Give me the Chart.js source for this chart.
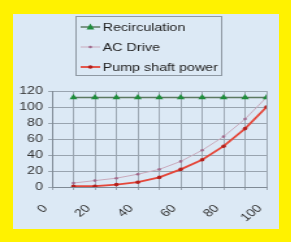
<!DOCTYPE html>
<html>
<head>
<meta charset="utf-8">
<script src="https://cdn.jsdelivr.net/npm/chart.js@4/dist/chart.umd.min.js"></script>
<style>
    html, body { margin: 0; padding: 0; background: #fff200; }
    body { width: 291px; height: 242px; position: relative; overflow: hidden; }
    #panel { position: absolute; left: 13px; top: 14px; width: 266px; height: 215px; background: #dce9f5; }
    /* the picture is stretched sideways, so the canvas is too */
    #c { position: absolute; left: 0; top: 0; transform: scaleX(1.3); transform-origin: 0 0; }
</style>
</head>
<body>
<div id="panel"><canvas id="c" width="205" height="215"></canvas></div>
<script>
    // speed (%) on the x axis
    const speeds = [10, 20, 30, 40, 50, 60, 70, 80, 90, 100];
    const recirculation = [112, 112, 112, 112, 112, 112, 112, 112, 112, 112];
    const acDrive = [5, 8, 11, 16, 22, 32, 46, 63, 85, 112];
    const pumpShaft = [1, 1, 3, 6, 12, 22, 34, 51, 73, 100];
    const seriesNames = ["Recirculation", "AC Drive", "Pump shaft power"];

    function toPoints(values) {
        return speeds.map((s, i) => ({ x: s, y: values[i] }));
    }

    // legend drawn in a box above the plot, one row per series
    const boxLegend = {
        id: "boxLegend",
        afterDraw(chart) {
            const ctx = chart.ctx;
            ctx.save();
            ctx.strokeStyle = "#8f99a3";
            ctx.lineWidth = 1;
            ctx.strokeRect(48.5, 2.5, 112, 59);
            ctx.font = '11px "Liberation Sans", Arial, sans-serif';
            ctx.textBaseline = "middle";
            chart.data.datasets.forEach((ds, i) => {
                const y = 13 + i * 20;
                ctx.strokeStyle = ds.borderColor;
                ctx.lineWidth = ds.borderWidth;
                ctx.beginPath();
                ctx.moveTo(52, y);
                ctx.lineTo(67, y);
                ctx.stroke();
                ctx.fillStyle = ds.pointBackgroundColor;
                ctx.beginPath();
                if (ds.pointStyle === "triangle") {
                    ctx.moveTo(59.5, y - 3.5);
                    ctx.lineTo(62.5, y + 2.5);
                    ctx.lineTo(56.5, y + 2.5);
                    ctx.closePath();
                } else {
                    ctx.arc(59.5, y, ds.pointRadius, 0, Math.PI * 2);
                }
                ctx.fill();
                ctx.fillStyle = "#222";
                ctx.fillText(ds.label, 69, y + 0.5);
            });
            ctx.restore();
        }
    };

    new Chart(document.getElementById("c"), {
        type: "line",
        data: {
            datasets: [{
                label: seriesNames[0],
                data: toPoints(recirculation),
                borderColor: "#5d7a62",
                borderWidth: 1.5,
                pointStyle: "triangle",
                pointRadius: 3.5,
                pointBackgroundColor: "#1e8c3c",
                pointBorderColor: "#1e8c3c",
                pointBorderWidth: 0
            }, {
                label: seriesNames[1],
                data: toPoints(acDrive),
                borderColor: "#c9a9bb",
                borderWidth: 1,
                pointRadius: 1.3,
                pointBackgroundColor: "#a06a8c",
                pointBorderColor: "#a06a8c",
                pointBorderWidth: 0
            }, {
                label: seriesNames[2],
                data: toPoints(pumpShaft),
                borderColor: "#e4473a",
                borderWidth: 1.8,
                pointRadius: 1.8,
                pointBackgroundColor: "#b3201c",
                pointBorderColor: "#b3201c",
                pointBorderWidth: 0
            }]
        },
        options: {
            responsive: false,
            animation: false,
            devicePixelRatio: 1,
            layout: { padding: { top: 77, right: 10, left: 0, bottom: 0 } },
            plugins: {
                legend: { display: false },
                tooltip: { enabled: false }
            },
            scales: {
                x: {
                    type: "linear",
                    min: 0,
                    max: 100,
                    afterFit(scale) {
                        scale.height = 42;
                        scale.paddingRight = 10;
                        scale.paddingLeft = 0;
                    },
                    grid: { color: "#8d98a3", lineWidth: 0.8, tickLength: 3 },
                    border: { color: "#7f8a95" },
                    ticks: {
                        stepSize: 10,
                        autoSkip: false,
                        minRotation: 45,
                        maxRotation: 45,
                        padding: 12,
                        labelOffset: -5,
                        color: "#333",
                        font: { size: 11, family: '"Liberation Sans", Arial, sans-serif' },
                        callback: v => (v % 20 === 0 ? v : "")
                    }
                },
                y: {
                    min: 0,
                    max: 120,
                    afterFit(scale) { scale.width = 30; },
                    grid: { color: "#99a4af", tickLength: 3 },
                    border: { color: "#7f8a95" },
                    ticks: {
                        stepSize: 20,
                        autoSkip: false,
                        padding: 4,
                        color: "#333",
                        font: { size: 11, family: '"Liberation Sans", Arial, sans-serif' }
                    }
                }
            }
        },
        plugins: [boxLegend]
    });
</script>
</body>
</html>
